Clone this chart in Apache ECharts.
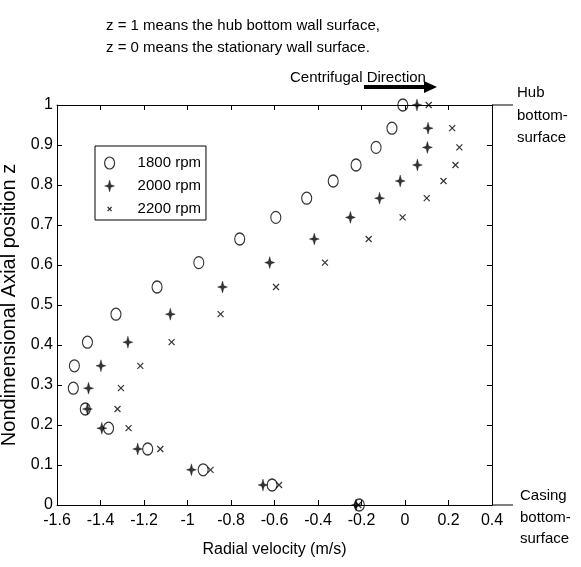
<!DOCTYPE html>
<html><head><meta charset="utf-8">
<script src="https://cdn.jsdelivr.net/npm/echarts@6/dist/echarts.min.js"></script>
<style>html,body{margin:0;padding:0;background:#fff}#c{width:581px;height:567px}</style>
</head><body><div id="c"></div>
<script>
// Nondimensional axial position z (shared by all three speeds)
const zLevels = [1.0, 0.942, 0.894, 0.85, 0.81, 0.767, 0.719, 0.665, 0.606, 0.545, 0.477, 0.407, 0.348, 0.292, 0.24, 0.192, 0.14, 0.088, 0.05, 0.0];
// Radial velocity (m/s)
const v1800 = [-0.01, -0.06, -0.133, -0.225, -0.33, -0.452, -0.594, -0.76, -0.948, -1.14, -1.329, -1.46, -1.52, -1.525, -1.47, -1.363, -1.183, -0.928, -0.611, -0.21];
const v2000 = [0.055, 0.106, 0.103, 0.057, -0.022, -0.117, -0.251, -0.417, -0.622, -0.839, -1.079, -1.274, -1.398, -1.455, -1.46, -1.394, -1.229, -0.982, -0.653, -0.225];
const v2200 = [0.109, 0.217, 0.25, 0.232, 0.177, 0.1, -0.011, -0.167, -0.368, -0.593, -0.848, -1.073, -1.217, -1.306, -1.322, -1.271, -1.125, -0.894, -0.579, -0.215];
const seriesNames = ['1800 rpm', '2000 rpm', '2200 rpm'];

const FONT = '"Liberation Sans", Arial, Helvetica, sans-serif';
const SYM_O = 'path://M0,-6 A5,6 0 1,1 0,6 A5,6 0 1,1 0,-6 Z';
const SYM_P = 'path://M0,-6 L1.3,-1.3 L5,0 L1.3,1.3 L0,6 L-1.3,1.3 L-5,0 L-1.3,-1.3 Z';
const SYM_X = 'path://M0,0 L6,6 M0,6 L6,0';
const SYM_X_LEG = 'path://M0,0 M12,12 M4,4 L8,8 M4,8 L8,4';

const toPts = vals => zLevels.map((z, i) => [vals[i], z]);

const chart = echarts.init(document.getElementById('c'), null, {renderer: 'canvas'});
const axisCommon = {
  type: 'value',
  axisLine: {show: true, onZero: false, lineStyle: {color: '#000', width: 1}},
  axisTick: {show: true, inside: true, length: 5, lineStyle: {color: '#000'}},
  splitLine: {show: false}
};
const ann = (x, y, t, size) => ({type: 'text', x: x, y: y, style: {text: t, fill: '#000', font: size + 'px ' + FONT, textBaseline: 'middle', textAlign: 'left'}});

chart.setOption({
  backgroundColor: '#fff',
  animation: false,
  grid: {left: 57, right: 89, top: 105, bottom: 62, containLabel: false, outerBoundsMode: 'none'},
  xAxis: [
    Object.assign({}, axisCommon, {
      position: 'bottom', min: -1.6, max: 0.4, interval: 0.2,
      axisLabel: {color: '#000', fontSize: 16, fontFamily: FONT, margin: 8},
      name: 'Radial velocity (m/s)', nameLocation: 'middle', nameGap: 37,
      nameTextStyle: {color: '#000', fontSize: 16, fontFamily: FONT}
    }),
    Object.assign({}, axisCommon, {
      position: 'top', min: -1.6, max: 0.4, interval: 0.2, axisLabel: {show: false}
    })
  ],
  yAxis: [
    Object.assign({}, axisCommon, {
      position: 'left', min: 0, max: 1, interval: 0.1,
      axisLabel: {color: '#000', fontSize: 16, fontFamily: FONT, margin: 4},
      name: 'Nondimensional Axial position z', nameLocation: 'middle', nameGap: 24,
      nameTextStyle: {color: '#000', fontSize: 20, fontFamily: FONT}
    }),
    Object.assign({}, axisCommon, {
      position: 'right', min: 0, max: 1, interval: 0.1, axisLabel: {show: false}
    })
  ],
  legend: {
    orient: 'vertical', left: 95, top: 146,
    padding: [9, 5, 3, 8], itemGap: 7, itemWidth: 12, itemHeight: 12,
    borderColor: '#000', borderWidth: 1, borderRadius: 0, backgroundColor: '#fff',
    textStyle: {fontSize: 15, color: '#000', fontFamily: FONT, lineHeight: 16, padding: [0, 0, 0, 17]},
    data: [
      {name: seriesNames[0], icon: SYM_O, itemStyle: {color: 'rgba(0,0,0,0)', borderColor: '#000', borderWidth: 1.2}},
      {name: seriesNames[1], icon: SYM_P, itemStyle: {color: '#000', borderColor: '#000', borderWidth: 0.4}},
      {name: seriesNames[2], icon: SYM_X_LEG, itemStyle: {color: 'rgba(0,0,0,0)', borderColor: '#000', borderWidth: 1.2}}
    ]
  },
  series: [
    {name: seriesNames[0], type: 'scatter', data: toPts(v1800), symbol: SYM_O, symbolSize: [10, 12],
     itemStyle: {color: 'rgba(0,0,0,0)', borderColor: '#000', borderWidth: 1.2}, z: 3},
    {name: seriesNames[1], type: 'scatter', data: toPts(v2000), symbol: SYM_P, symbolSize: [10, 12],
     itemStyle: {color: '#000', borderColor: '#000', borderWidth: 0.4}, z: 4},
    {name: seriesNames[2], type: 'scatter', data: toPts(v2200), symbol: SYM_X, symbolSize: 6,
     itemStyle: {color: 'rgba(0,0,0,0)', borderColor: '#000', borderWidth: 1.2}, z: 4}
  ],
  graphic: [
    ann(106, 18, 'z = 1 means the hub bottom wall surface,', 15),
    ann(106, 40, 'z = 0 means the stationary wall surface.', 15),
    ann(290, 70, 'Centrifugal Direction', 15),
    {type: 'line', shape: {x1: 364, y1: 87, x2: 426, y2: 87}, style: {stroke: '#000', lineWidth: 4}},
    {type: 'polygon', shape: {points: [[424, 81], [437, 87], [424, 93]]}, style: {fill: '#000'}},
    {type: 'line', shape: {x1: 492, y1: 105, x2: 513, y2: 105}, style: {stroke: '#000', lineWidth: 1}},
    {type: 'line', shape: {x1: 492, y1: 505, x2: 513, y2: 505}, style: {stroke: '#000', lineWidth: 1}},
    ann(517, 85, 'Hub', 15),
    ann(517, 108, 'bottom-', 15),
    ann(517, 130, 'surface', 15),
    ann(520, 488, 'Casing', 15),
    ann(520, 510, 'bottom-', 15),
    ann(520, 531, 'surface', 15)
  ]
});
</script></body></html>
